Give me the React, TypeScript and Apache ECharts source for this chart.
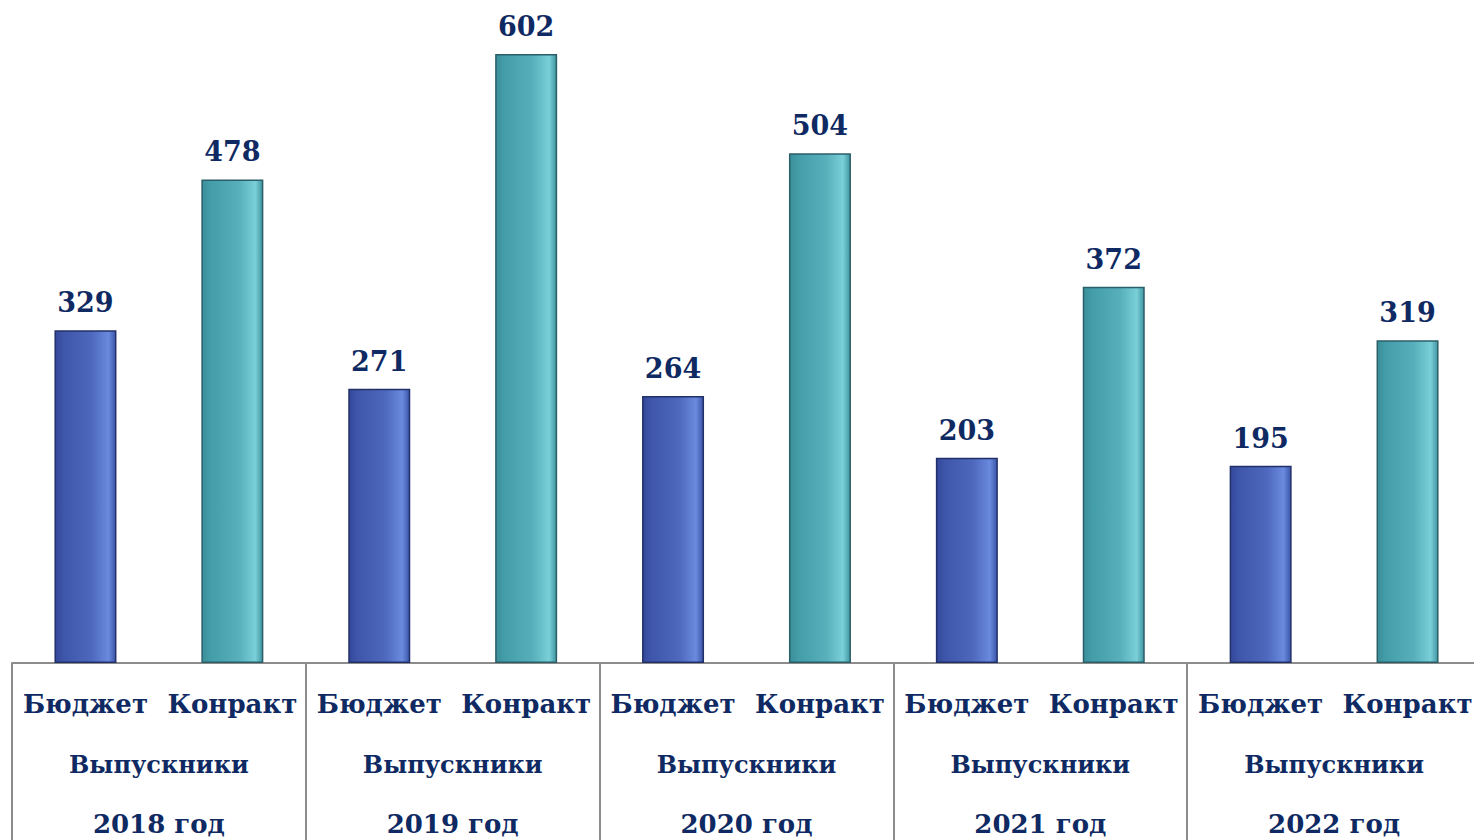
import React, { useEffect, useRef } from "react";
import * as echarts from "echarts";

const years = ["2018 год", "2019 год", "2020 год", "2021 год", "2022 год"];
const groupLabel = "Выпускники";
const subCats = ["Бюджет", "Конракт"];
const budget = [329, 271, 264, 203, 195];
const contract = [478, 602, 504, 372, 319];

const TEXT = "#0f2a63";
const FONT = "'DejaVu Serif', serif";

export default function App() {
  const ref = useRef<HTMLDivElement>(null);
  useEffect(() => {
    const chart = echarts.init(ref.current!, null, { renderer: "svg" });
    const cats: string[] = [];
    const values: any[] = [];
    years.forEach((_, i) => {
      cats.push(subCats[0], subCats[1]);
      values.push({
        value: budget[i],
        itemStyle: {
          color: new echarts.graphic.LinearGradient(0, 0, 1, 0, [
            { offset: 0, color: "#34489a" },
            { offset: 0.15, color: "#3f57aa" },
            { offset: 0.6, color: "#4d68bc" },
            { offset: 0.88, color: "#6a8ade" },
            { offset: 1, color: "#3b55a8" },
          ]),
          borderColor: "#22306a",
          borderWidth: 1.5,
        },
      });
      values.push({
        value: contract[i],
        itemStyle: {
          color: new echarts.graphic.LinearGradient(0, 0, 1, 0, [
            { offset: 0, color: "#3a8f9a" },
            { offset: 0.15, color: "#449ea9" },
            { offset: 0.6, color: "#56afba" },
            { offset: 0.88, color: "#7acfd8" },
            { offset: 1, color: "#3f96a1" },
          ]),
          borderColor: "#2b5f68",
          borderWidth: 1.5,
        },
      });
    });
    chart.setOption({
      animation: false,
      grid: {
        left: 12,
        right: -7,
        top: 5.5,
        bottom: 177,
        containLabel: false,
        outerBoundsMode: "none",
      },
      xAxis: [
        {
          type: "category",
          data: cats,
          position: "bottom",
          axisLine: { show: false },
          axisTick: { show: false },
          axisLabel: {
            interval: 0,
            margin: 28,
            color: TEXT,
            fontFamily: FONT,
            fontWeight: "bold",
            fontSize: 26,
          },
        },
        {
          type: "category",
          data: years.map((y) => "{a|" + groupLabel + "}\n{b|" + y + "}"),
          position: "bottom",
          axisLine: { show: true, lineStyle: { color: "#8c8c8c", width: 2 } },
          axisTick: { show: true, length: 180, lineStyle: { color: "#8c8c8c", width: 2 } },
          axisLabel: {
            interval: 0,
            margin: 72,
            color: TEXT,
            fontFamily: FONT,
            fontWeight: "bold",
            rich: {
              a: {
                fontSize: 24,
                lineHeight: 59,
                color: TEXT,
                fontFamily: FONT,
                fontWeight: "bold",
              },
              b: {
                fontSize: 26,
                lineHeight: 59,
                color: TEXT,
                fontFamily: FONT,
                fontWeight: "bold",
              },
            },
          },
        },
      ],
      yAxis: {
        type: "value",
        min: 0,
        max: 650,
        show: false,
        splitLine: { show: false },
      },
      series: [
        {
          type: "bar",
          xAxisIndex: 0,
          data: values,
          barWidth: 62,
          label: {
            show: true,
            position: "top",
            distance: 14,
            color: TEXT,
            fontFamily: FONT,
            fontWeight: "bold",
            fontSize: 27,
          },
        },
      ],
    });
    return () => chart.dispose();
  }, []);
  return (
    <div
      ref={ref}
      style={{ position: "fixed", left: 0, top: 0, width: 1474, height: 840, background: "#fff" }}
    />
  );
}
